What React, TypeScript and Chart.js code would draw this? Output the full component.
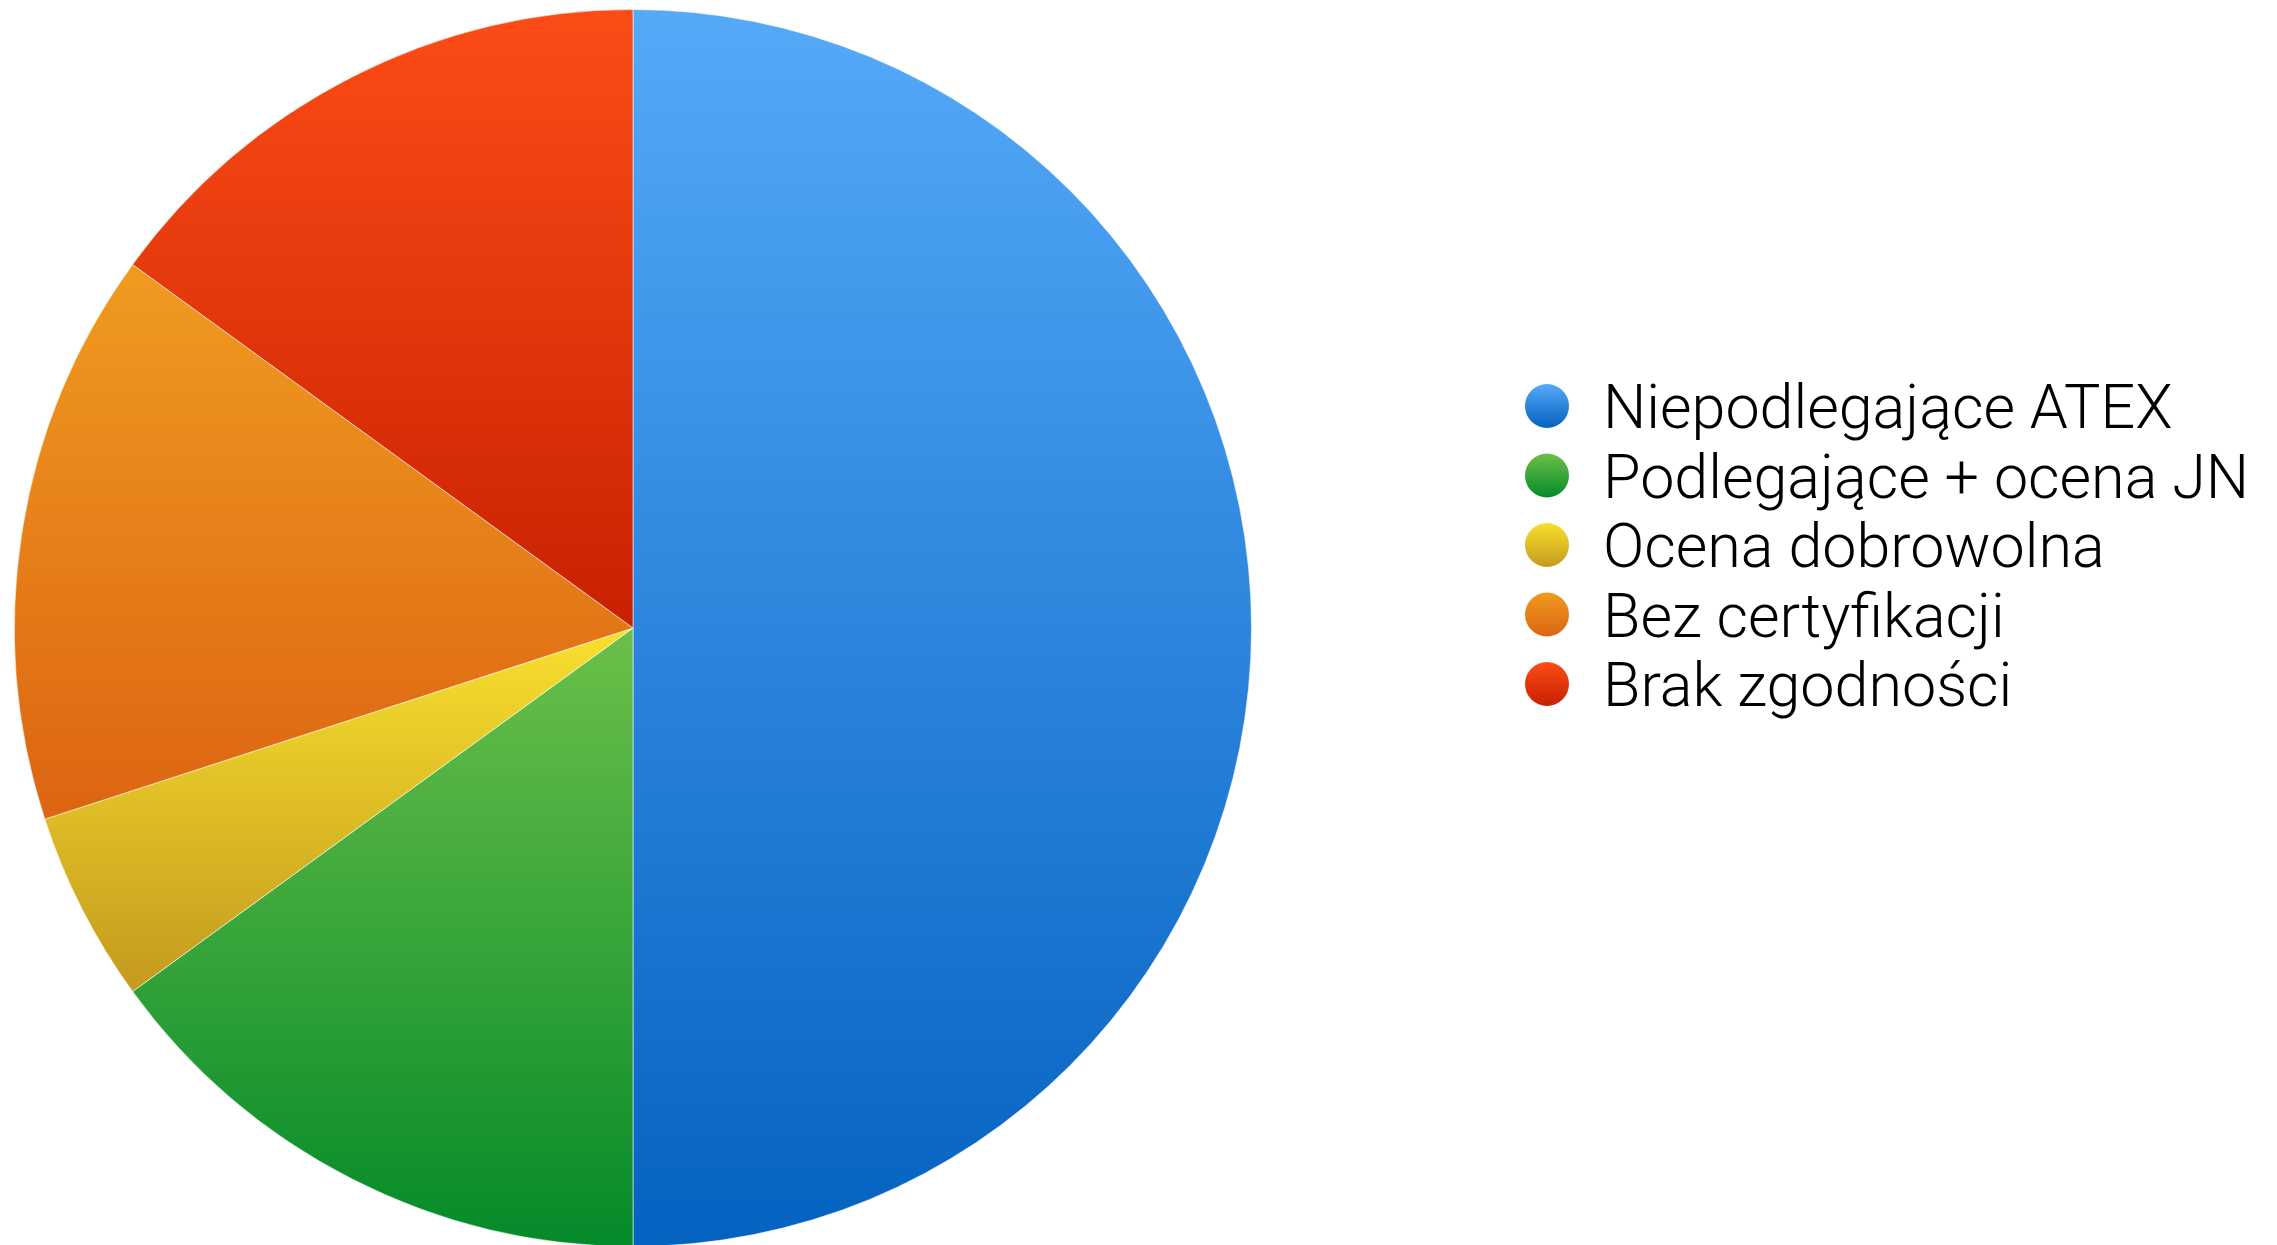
import React, { useEffect, useRef } from "react";
import { Chart, registerables } from "chart.js";

Chart.register(...registerables);

const categories = [
  "Niepodlegające ATEX",
  "Podlegające + ocena JN",
  "Ocena dobrowolna",
  "Bez certyfikacji",
  "Brak zgodności",
];
const values = [50, 15, 5, 15, 15];
const colorsTop = ["#55A9F9", "#6CC049", "#F8E02E", "#F09B20", "#FC4C16"];
const colorsBottom = ["#0462C0", "#048A2A", "#C49A1E", "#DC6412", "#C82002"];

function sliceGradient(ctx: any) {
  const chart = ctx.chart;
  const i = ctx.dataIndex;
  const area = chart.chartArea;
  if (!area || i === undefined) return colorsTop[i ?? 0];
  const meta = chart.getDatasetMeta(0);
  const cx = (area.left + area.right) / 2;
  const cy = (area.top + area.bottom) / 2;
  const r =
    (meta && meta.controller && meta.controller.outerRadius) ||
    Math.min(area.width, area.height) / 2;
  const total = values.reduce((a, b) => a + b, 0);
  let cum = 0;
  for (let k = 0; k < i; k++) cum += values[k];
  const a0 = -Math.PI / 2 + (cum / total) * Math.PI * 2;
  const a1 = -Math.PI / 2 + ((cum + values[i]) / total) * Math.PI * 2;
  const ys = [cy, cy + r * Math.sin(a0), cy + r * Math.sin(a1)];
  const crosses = (ang: number) => {
    for (let t = ang - 4 * Math.PI; t <= ang + 4 * Math.PI; t += 2 * Math.PI) {
      if (t >= a0 && t <= a1) return true;
    }
    return false;
  };
  if (crosses(Math.PI / 2)) ys.push(cy + r);
  if (crosses(-Math.PI / 2)) ys.push(cy - r);
  const minY = Math.min(...ys);
  const maxY = Math.max(...ys);
  const g = chart.ctx.createLinearGradient(0, minY, 0, maxY);
  g.addColorStop(0, colorsTop[i]);
  g.addColorStop(1, colorsBottom[i]);
  return g;
}

const legendPlugin = {
  id: "customLegend",
  afterDraw(chart: any) {
    const c = chart.ctx;
    const x0 = 1547;
    const y0 = 406;
    const step = 69.5;
    const rad = 22;
    c.save();
    categories.forEach((label, i) => {
      const y = y0 + i * step;
      const g = c.createLinearGradient(0, y - rad, 0, y + rad);
      g.addColorStop(0, colorsTop[i]);
      g.addColorStop(1, colorsBottom[i]);
      c.beginPath();
      c.arc(x0, y, rad, 0, Math.PI * 2);
      c.fillStyle = g;
      c.fill();
      c.fillStyle = "#000000";
      c.font = '300 61px Roboto, "Liberation Sans", sans-serif';
      c.textAlign = "left";
      c.textBaseline = "alphabetic";
      c.fillText(label, 1603, y + 22);
    });
    c.restore();
  },
};

export default function App() {
  const ref = useRef<HTMLCanvasElement | null>(null);
  useEffect(() => {
    if (!ref.current) return;
    const chart = new Chart(ref.current, {
      type: "pie",
      data: {
        labels: categories,
        datasets: [
          {
            data: values,
            backgroundColor: sliceGradient as any,
            borderColor: "rgba(255,255,255,0.55)",
            borderWidth: 1,
          },
        ],
      },
      options: {
        responsive: false,
        animation: false,
        events: [],
        layout: { padding: { top: 9, bottom: 9, left: 14, right: 1025 } },
        plugins: {
          legend: { display: false },
          tooltip: { enabled: false },
        },
      },
      plugins: [legendPlugin],
    });
    return () => chart.destroy();
  }, []);
  return (
    <div
      style={{
        position: "fixed",
        left: 0,
        top: 0,
        width: 2277,
        height: 1245,
        overflow: "hidden",
        background: "#ffffff",
      }}
    >
      <canvas ref={ref} width={2277} height={1256} style={{ display: "block" }} />
    </div>
  );
}
